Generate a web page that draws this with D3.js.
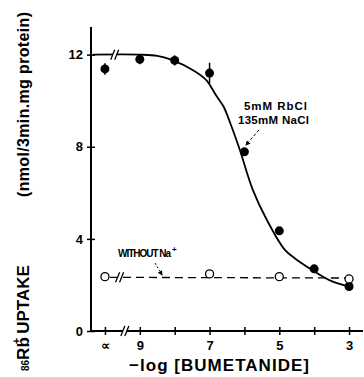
<!DOCTYPE html>
<html>
<head>
<meta charset="utf-8">
<script src="https://cdn.jsdelivr.net/npm/d3@7"></script>
<style>
  body { margin: 0; background: #fff; }
  svg { display: block; font-family: "Liberation Sans", Arial, sans-serif; }
</style>
</head>
<body>
<div id="chart"></div>
<script>
// -log[bumetanide]; 10 stands for the control (no drug, shown as "∝")
const xTicks = [10, 9, 8, 7, 6, 5, 4, 3];
const xTickLabels = ["∝", "9", "", "7", "", "5", "", "3"];
const yTicks = [0, 4, 8, 12];

// with Na+ (5mM RbCl, 135mM NaCl)
const naP = [10, 9, 8, 7, 6, 5, 4, 3];
const naUptake = [11.38, 11.8, 11.75, 11.2, 7.78, 4.35, 2.7, 1.93];
const naErr = [0.25, 0.22, 0.22, 0.45, 0, 0, 0, 0];

// fitted curve
const fitP = [10.35, 9.0, 8.5, 8.1, 7.45, 7.1, 6.8, 6.6, 6.4, 6.14, 5.76, 5.36, 4.84, 4.55, 4.06, 3.55, 3.0];
const fitV = [12.0, 12.0, 11.95, 11.78, 11.3, 10.9, 10.2, 9.75, 9.0, 7.9, 6.13, 4.83, 3.52, 3.15, 2.65, 2.2, 1.93];

// without Na+
const noNaP = [10, 7, 5, 3];
const noNaUptake = [2.36, 2.48, 2.36, 2.26];
const noNaLineP = [10, 3];
const noNaLineV = [2.33, 2.3];

const width = 364, height = 377;

const x = d3.scaleLinear().domain([10.4, 2.6]).range([91, 363]);
const y = d3.scaleLinear().domain([0, 13.2]).range([331, 27]);

const svg = d3.select("#chart").append("svg")
  .attr("width", width)
  .attr("height", height);

// axes
const xAxis = svg.append("g")
  .attr("transform", "translate(0," + y(0) + ")")
  .call(d3.axisBottom(x).tickValues(xTicks).tickSizeOuter(0).tickSizeInner(4)
    .tickFormat(function (d, i) { return xTickLabels[i]; }));
xAxis.select(".domain").attr("stroke-width", 2).attr("d", "M" + x(10.4) + ",0H" + x(2.6));
xAxis.selectAll(".tick line").attr("y1", -4).attr("y2", 4).attr("stroke-width", 1.5);
xAxis.selectAll(".tick text")
  .attr("y", 10)
  .attr("font-size", 13)
  .attr("font-weight", "bold")
  .attr("font-family", "Liberation Sans, Arial, sans-serif");

const yAxis = svg.append("g")
  .attr("transform", "translate(" + x(10.4) + ",0)")
  .call(d3.axisLeft(y).tickValues(yTicks).tickSizeOuter(0).tickSizeInner(4));
yAxis.select(".domain").attr("stroke-width", 2).attr("d", "M0," + y(13.2) + "V" + y(0));
yAxis.selectAll(".tick line").attr("x1", -4).attr("x2", 4).attr("stroke-width", 1.5);
yAxis.selectAll(".tick text")
  .attr("x", -8)
  .attr("font-size", 13)
  .attr("font-weight", "bold")
  .attr("font-family", "Liberation Sans, Arial, sans-serif");

// break marks
function breakMark(cx, cy) {
  const g = svg.append("g");
  g.append("rect").attr("x", cx - 2).attr("y", cy - 3).attr("width", 4).attr("height", 6).attr("fill", "#fff");
  [-2, 2].forEach(function (dx) {
    g.append("line")
      .attr("x1", cx + dx - 2).attr("y1", cy + 5)
      .attr("x2", cx + dx + 2).attr("y2", cy - 5)
      .attr("stroke", "#000").attr("stroke-width", 1.3);
  });
}

// fitted curve
const fit = fitP.map(function (p, i) { return [p, fitV[i]]; });
svg.append("path")
  .datum(fit)
  .attr("fill", "none")
  .attr("stroke", "#000")
  .attr("stroke-width", 1.8)
  .attr("d", d3.line()
    .x(function (d) { return x(d[0]); })
    .y(function (d) { return y(d[1]); })
    .curve(d3.curveCatmullRom));

// dashed no-Na line
svg.append("line")
  .attr("x1", x(noNaLineP[0]) + 5).attr("y1", y(noNaLineV[0]))
  .attr("x2", x(noNaLineP[1])).attr("y2", y(noNaLineV[1]))
  .attr("stroke", "#000")
  .attr("stroke-width", 1.3)
  .attr("stroke-dasharray", "8,5");

breakMark(x(9.43), y(0));
breakMark(x(9.72), y(12));
breakMark(x(9.58), y(2.33));

// error bars
svg.selectAll(".err")
  .data(naP.filter(function (d, i) { return naErr[i] > 0; }))
  .enter().append("line")
  .attr("class", "err")
  .attr("x1", function (d) { return x(d); })
  .attr("x2", function (d) { return x(d); })
  .attr("y1", function (d) { const i = naP.indexOf(d); return y(naUptake[i] + naErr[i]); })
  .attr("y2", function (d) { const i = naP.indexOf(d); return y(naUptake[i] - naErr[i]); })
  .attr("stroke", "#000")
  .attr("stroke-width", 1.5);

// filled points
svg.selectAll(".na")
  .data(naP)
  .enter().append("circle")
  .attr("class", "na")
  .attr("cx", function (d) { return x(d); })
  .attr("cy", function (d, i) { return y(naUptake[i]); })
  .attr("r", 4.5)
  .attr("fill", "#000");

// open points
svg.selectAll(".nona")
  .data(noNaP)
  .enter().append("circle")
  .attr("class", "nona")
  .attr("cx", function (d) { return x(d); })
  .attr("cy", function (d, i) { return y(noNaUptake[i]); })
  .attr("r", 4)
  .attr("fill", "#fff")
  .attr("stroke", "#000")
  .attr("stroke-width", 1.3);

// annotations
svg.append("defs").append("marker")
  .attr("id", "arr")
  .attr("viewBox", "0 0 6 6")
  .attr("refX", 5).attr("refY", 3)
  .attr("markerWidth", 5).attr("markerHeight", 5)
  .attr("orient", "auto")
  .append("path").attr("d", "M0,0L6,3L0,6Z").attr("fill", "#000");

svg.append("text").attr("x", 244).attr("y", 110)
  .attr("font-size", 11.5).attr("font-weight", "bold").attr("textLength", 63)
  .text("5mM RbCl");
svg.append("text").attr("x", 238).attr("y", 124)
  .attr("font-size", 11.5).attr("font-weight", "bold").attr("textLength", 71)
  .text("135mM NaCl");
svg.append("line")
  .attr("x1", 259).attr("y1", 130).attr("x2", 246).attr("y2", 145)
  .attr("stroke", "#000").attr("stroke-width", 1)
  .attr("stroke-dasharray", "3,2")
  .attr("marker-end", "url(#arr)");

svg.append("text").attr("x", 118).attr("y", 257)
  .attr("font-size", 10).attr("font-weight", "bold")
  .attr("textLength", 53)
  .text("WITHOUT Na");
svg.append("text").attr("x", 172).attr("y", 252)
  .attr("font-size", 8).attr("font-weight", "bold")
  .text("+");
svg.append("line")
  .attr("x1", 155).attr("y1", 263).attr("x2", 162).attr("y2", 275)
  .attr("stroke", "#000").attr("stroke-width", 1)
  .attr("stroke-dasharray", "2,2")
  .attr("marker-end", "url(#arr)");

// axis titles
svg.append("text")
  .attr("x", 219).attr("y", 371)
  .attr("text-anchor", "middle")
  .attr("font-size", 17).attr("font-weight", "bold")
  .attr("textLength", 180)
  .text("−log [BUMETANIDE]");

svg.append("text")
  .attr("transform", "translate(29,197) rotate(-90)")
  .attr("font-size", 16).attr("font-weight", "bold")
  .attr("textLength", 185)
  .text("(nmol/3min.mg protein)");

const yt = svg.append("text")
  .attr("transform", "translate(29,371) rotate(-90)")
  .attr("font-size", 17).attr("font-weight", "bold");
yt.append("tspan").attr("font-size", 10).text("86");
yt.append("tspan").text("Rb");
yt.append("tspan").attr("font-size", 11).attr("dy", -9).attr("dx", -7).text("+");
yt.append("tspan").attr("dy", 9).attr("dx", 4).text("UPTAKE");
</script>
</body>
</html>
